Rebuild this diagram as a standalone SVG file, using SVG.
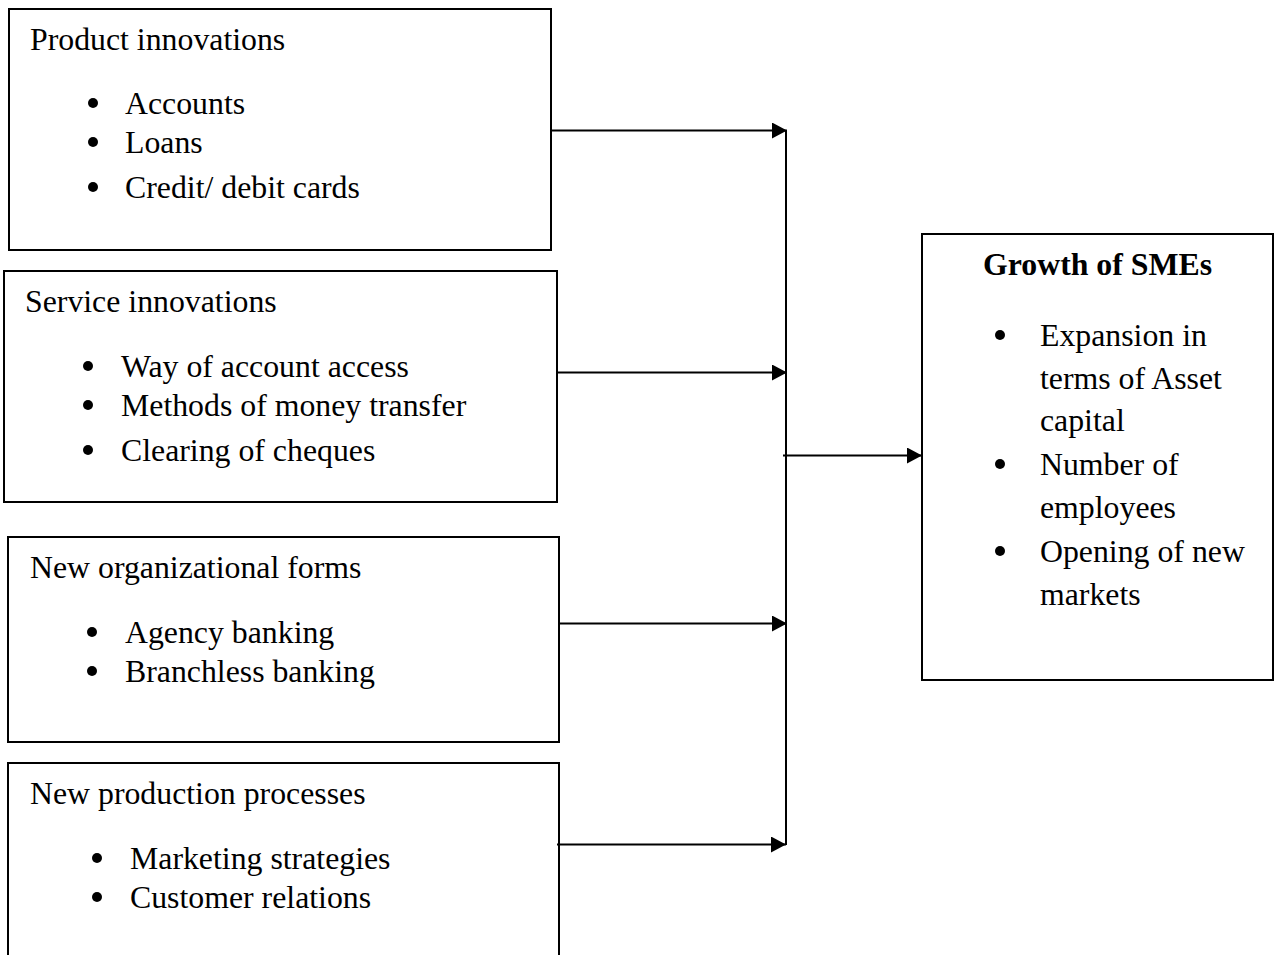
<svg xmlns="http://www.w3.org/2000/svg" width="1275" height="955" viewBox="0 0 1275 955">
  <style>
    .box { fill: #fff; stroke: #000; stroke-width: 2; }
    .t { font-family: "Liberation Serif", "Times New Roman", serif; font-size: 31.8px; fill: #000; }
    .b { font-weight: bold; }
    .dot { fill: #000; }
    .wire { fill: none; stroke: #000; stroke-width: 2; }
  </style>
  <defs>
    <marker id="arrow" markerUnits="userSpaceOnUse" markerWidth="15" markerHeight="16" refX="15" refY="8" orient="auto">
      <path d="M0,0 L15,8 L0,16 Z" fill="#000"/>
    </marker>
  </defs>

  <rect width="1275" height="955" fill="#fff"/>

  <!-- Product innovations -->
  <g id="product">
    <rect class="box" x="9" y="9" width="542" height="241"/>
    <text class="t" x="30" y="50">Product innovations</text>
    <circle class="dot" cx="93" cy="103" r="5"/>
    <text class="t" x="125" y="114">Accounts</text>
    <circle class="dot" cx="93" cy="142" r="5"/>
    <text class="t" x="125" y="153">Loans</text>
    <circle class="dot" cx="93" cy="187" r="5"/>
    <text class="t" x="125" y="198">Credit/ debit cards</text>
  </g>

  <!-- Service innovations -->
  <g id="service">
    <rect class="box" x="4" y="271" width="553" height="231"/>
    <text class="t" x="25" y="312">Service innovations</text>
    <circle class="dot" cx="88" cy="366" r="5"/>
    <text class="t" x="121" y="377">Way of account access</text>
    <circle class="dot" cx="88" cy="405" r="5"/>
    <text class="t" x="121" y="416">Methods of money transfer</text>
    <circle class="dot" cx="88" cy="450" r="5"/>
    <text class="t" x="121" y="461">Clearing of cheques</text>
  </g>

  <!-- New organizational forms -->
  <g id="organizational">
    <rect class="box" x="8" y="537" width="551" height="205"/>
    <text class="t" x="30" y="578">New organizational forms</text>
    <circle class="dot" cx="92" cy="632" r="5"/>
    <text class="t" x="125" y="643">Agency banking</text>
    <circle class="dot" cx="92" cy="671" r="5"/>
    <text class="t" x="125" y="682">Branchless banking</text>
  </g>

  <!-- New production processes -->
  <g id="production">
    <rect class="box" x="8" y="763" width="551" height="210"/>
    <text class="t" x="30" y="804">New production processes</text>
    <circle class="dot" cx="97" cy="858" r="5"/>
    <text class="t" x="130" y="869">Marketing strategies</text>
    <circle class="dot" cx="97" cy="897" r="5"/>
    <text class="t" x="130" y="908">Customer relations</text>
  </g>

  <!-- Growth of SMEs -->
  <g id="growth">
    <rect class="box" x="922" y="234" width="351" height="446"/>
    <text class="t b" x="983" y="275">Growth of SMEs</text>
    <circle class="dot" cx="1000" cy="335" r="5"/>
    <text class="t" x="1040" y="346">Expansion in</text>
    <text class="t" x="1040" y="389">terms of Asset</text>
    <text class="t" x="1040" y="431">capital</text>
    <circle class="dot" cx="1000" cy="464" r="5"/>
    <text class="t" x="1040" y="475">Number of</text>
    <text class="t" x="1040" y="518">employees</text>
    <circle class="dot" cx="1000" cy="551" r="5"/>
    <text class="t" x="1040" y="562">Opening of new</text>
    <text class="t" x="1040" y="605">markets</text>
  </g>

  <!-- connectors -->
  <g id="connectors">
    <line class="wire" x1="786" y1="130" x2="786" y2="845"/>
    <line class="wire" x1="551" y1="130.5" x2="787" y2="130.5" marker-end="url(#arrow)"/>
    <line class="wire" x1="557" y1="372.5" x2="787" y2="372.5" marker-end="url(#arrow)"/>
    <line class="wire" x1="559" y1="623.5" x2="787" y2="623.5" marker-end="url(#arrow)"/>
    <line class="wire" x1="557" y1="844.5" x2="786" y2="844.5" marker-end="url(#arrow)"/>
    <line class="wire" x1="783" y1="455.5" x2="922" y2="455.5" marker-end="url(#arrow)"/>
  </g>
</svg>
